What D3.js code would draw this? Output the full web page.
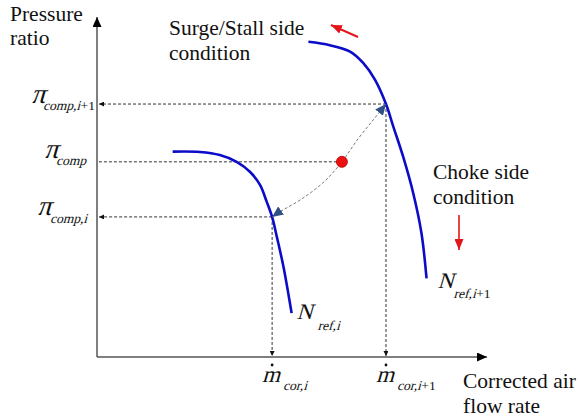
<!DOCTYPE html>
<html><head><meta charset="utf-8">
<script src="https://cdn.jsdelivr.net/npm/d3@7"></script>
<style>
body{margin:0;background:#fff}
svg{display:block}
text{font-family:"Liberation Serif","Times New Roman",serif;fill:#111}
</style>
</head><body>
<svg id="chart" width="579" height="420"></svg>
<script>
// Compressor map: two constant corrected-speed lines, pressure ratio vs corrected flow
const speedLineLow = [[1.94,6.04],[2.64,6.03],[3.15,5.94],[3.58,5.74],[3.92,5.45],[4.18,5.06],[4.35,4.57],[4.49,4.12],[4.61,3.54],[4.78,2.66],[4.99,1.29]];
const speedLineHigh = [[5.42,9.27],[5.97,9.17],[6.49,8.98],[6.83,8.64],[7.13,8.15],[7.41,7.44],[7.60,6.77],[7.85,5.89],[8.11,4.81],[8.32,3.64],[8.45,2.31]];
// Bracketing points on each speed line and the interpolated operating point
const flowLow = 4.49, flowHigh = 7.41;
const piLow = 4.12, piHigh = 7.44;
const operatingPoint = [6.28, 5.74];
const interpPath = [[4.49,4.12],[4.67,4.26],[5.21,4.62],[5.79,5.12],[6.28,5.74],[6.67,6.38],[7.08,6.97],[7.41,7.44]];
const speedLabels = [{base:"N", sub:"ref,i", tail:""}, {base:"N", sub:"ref,i", tail:"+1"}];

const svg = d3.select("#chart");
const x = d3.scaleLinear().domain([0, 10]).range([97, 487]);
const y = d3.scaleLinear().domain([0, 10]).range([357, 17]);

// arrowhead markers
const defs = svg.append("defs");
function marker(id, len, wid, color) {
  defs.append("marker").attr("id", id)
    .attr("markerUnits", "userSpaceOnUse")
    .attr("viewBox", `0 ${-wid/2} ${len} ${wid}`)
    .attr("refX", len).attr("refY", 0)
    .attr("markerWidth", len).attr("markerHeight", wid)
    .attr("orient", "auto-start-reverse")
    .append("path").attr("d", `M0,${-wid/2}L${len},0L0,${wid/2}Z`).attr("fill", color);
}
marker("axisHead", 10, 9, "#000");
marker("dashHead", 5, 5, "#111");
marker("triHead", 11, 10, "#2f4f86");
marker("redHead", 11, 9, "#e3161b");

// axes
svg.append("line").attr("x1", x(0)).attr("y1", y(0)).attr("x2", x(0)).attr("y2", y(10))
  .attr("stroke", "#555").attr("stroke-width", 1.5).attr("marker-end", "url(#axisHead)");
svg.append("line").attr("x1", x(0)).attr("y1", y(0)).attr("x2", x(10)).attr("y2", y(0))
  .attr("stroke", "#555").attr("stroke-width", 1.5).attr("marker-end", "url(#axisHead)");

// dashed projection lines
const dashStyle = sel => sel.attr("stroke", "#333").attr("stroke-width", 1).attr("stroke-dasharray", "3,2").attr("fill", "none");
[[flowHigh, piHigh], [flowLow, piLow]].forEach(([fx, py]) => {
  svg.append("line").attr("x1", x(fx)).attr("y1", y(py)).attr("x2", x(0) + 2).attr("y2", y(py))
    .call(dashStyle).attr("marker-end", "url(#dashHead)");
  svg.append("line").attr("x1", x(fx)).attr("y1", y(py)).attr("x2", x(fx)).attr("y2", y(0) - 1)
    .call(dashStyle).attr("marker-end", "url(#dashHead)");
});
svg.append("line").attr("x1", x(operatingPoint[0])).attr("y1", y(operatingPoint[1]))
  .attr("x2", x(0)).attr("y2", y(operatingPoint[1])).call(dashStyle);

// speed lines
const line = d3.line().x(d => x(d[0])).y(d => y(d[1])).curve(d3.curveCatmullRom.alpha(0.5));
[speedLineLow, speedLineHigh].forEach(pts => {
  svg.append("path").attr("d", line(pts)).attr("fill", "none")
    .attr("stroke", "#0c0cc8").attr("stroke-width", 2.6);
});

// interpolation path between the two speed lines
svg.append("path").attr("d", line(interpPath)).attr("fill", "none")
  .attr("stroke", "#7a7a7a").attr("stroke-width", 1).attr("stroke-dasharray", "3,2")
  .attr("marker-start", "url(#triHead)").attr("marker-end", "url(#triHead)");

// operating point
svg.append("circle").attr("cx", x(operatingPoint[0])).attr("cy", y(operatingPoint[1])).attr("r", 5.5)
  .attr("fill", "#ee1111").attr("stroke", "#b00000").attr("stroke-width", 0.8);

// red direction arrows
svg.append("line").attr("x1", 358).attr("y1", 37).attr("x2", 331).attr("y2", 25)
  .attr("stroke", "#e3161b").attr("stroke-width", 2).attr("marker-end", "url(#redHead)");
svg.append("line").attr("x1", 459).attr("y1", 215).attr("x2", 459).attr("y2", 250)
  .attr("stroke", "#e3161b").attr("stroke-width", 1.6).attr("marker-end", "url(#redHead)");

// plain text labels
function label(tx, ty, str, size) {
  return svg.append("text").attr("x", tx).attr("y", ty).attr("font-size", size).text(str);
}
label(10, 21, "Pressure", 21.5);
label(10, 45, "ratio", 21.5);
label(169, 35, "Surge/Stall side", 21.5);
label(169, 60, "condition", 21.5);
label(433, 179, "Choke side", 21.5);
label(433, 204, "condition", 21.5);
label(463, 388, "Corrected air", 21.5);
label(463, 413, "flow rate", 21.5);

// slanted serif text (math italic look)
function slanted(tx, ty, size, str) {
  return svg.append("text").attr("transform", `translate(${tx},${ty}) skewX(-16)`)
    .attr("font-size", size).text(str);
}
// subscripted math labels; the "+1" part stays upright
function mathLabel(bx, by, base, baseSize, sx, sy, sub, tail) {
  slanted(bx, by, baseSize, base);
  const t = slanted(sx, sy, 13.5, sub);
  if (tail) {
    const w = t.node().getComputedTextLength();
    label(sx + w + 0.5, sy, tail, 13.5);
  }
}
// pressure ratio labels on the vertical axis
mathLabel(31, y(piHigh) - 1, "\u03c0", 28, 43, y(piHigh) + 6, "comp,i", "+1");
mathLabel(44, y(operatingPoint[1]) - 4, "\u03c0", 28, 56, y(operatingPoint[1]) + 3, "comp", "");
mathLabel(37, y(piLow) - 2, "\u03c0", 28, 50, y(piLow) + 6, "comp,i", "");

// corrected flow labels under the horizontal axis
[[flowLow, ""], [flowHigh, "+1"]].forEach(([fx, tail]) => {
  const cx = x(fx);
  mathLabel(cx - 10, 382, "m", 23, cx + 11, 390, "cor,i", tail);
  svg.append("circle").attr("cx", cx).attr("cy", 365).attr("r", 1.4).attr("fill", "#111");
});

// speed line labels
const lowEnd = speedLineLow[speedLineLow.length - 1], highEnd = speedLineHigh[speedLineHigh.length - 1];
mathLabel(x(lowEnd[0]) + 5, y(lowEnd[1]) + 6, speedLabels[0].base, 22, x(lowEnd[0]) + 26, y(lowEnd[1]) + 17, speedLabels[0].sub, speedLabels[0].tail);
mathLabel(x(highEnd[0]) + 11, y(highEnd[1]) + 10, speedLabels[1].base, 22, x(highEnd[0]) + 27, y(highEnd[1]) + 20, speedLabels[1].sub, speedLabels[1].tail);
</script>
</body></html>
